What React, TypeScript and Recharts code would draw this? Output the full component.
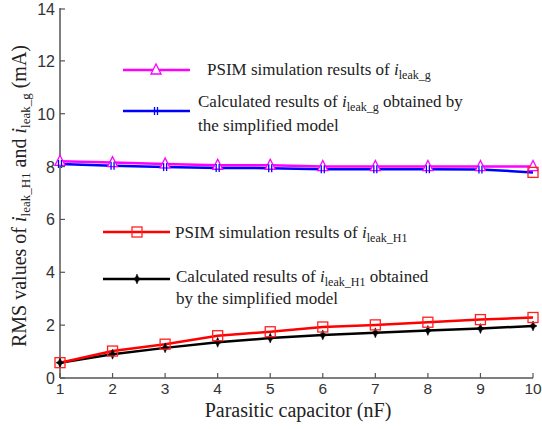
import React from 'react';
import { LineChart, Line, XAxis, YAxis } from 'recharts';

const CAPACITOR = [1, 2, 3, 4, 5, 6, 7, 8, 9, 10];
const PSIM_G = [8.2, 8.15, 8.1, 8.05, 8.05, 8.0, 8.0, 8.0, 8.0, 8.0];
const CALC_G = [8.1, 8.03, 7.98, 7.95, 7.94, 7.9, 7.9, 7.9, 7.89, 7.78];
const PSIM_H1 = [0.58, 1.02, 1.28, 1.6, 1.75, 1.93, 2.01, 2.11, 2.21, 2.29];
const CALC_H1 = [0.58, 0.9, 1.14, 1.35, 1.51, 1.63, 1.71, 1.8, 1.87, 1.97];
const Y_TICKS = [0, 2, 4, 6, 8, 10, 12, 14];

const data = CAPACITOR.map((c, i) => ({
    c,
    psimG: PSIM_G[i],
    calcG: CALC_G[i],
    psimH1: PSIM_H1[i],
    calcH1: CALC_H1[i],
}));

const AXIS = '#555';
const SANS = '"Liberation Sans", Arial, sans-serif';
const SERIF = '"Liberation Serif", "Times New Roman", serif';

const Triangle = ({ cx, cy, color }: any) => (
    <polygon points={`${cx},${cy - 6} ${cx - 5},${cy + 4} ${cx + 5},${cy + 4}`} fill="#fff" stroke={color} strokeWidth={1.3} />
);
const Square = ({ cx, cy, color }: any) => (
    <rect x={cx - 5} y={cy - 5} width={10} height={10} fill="none" stroke={color} strokeWidth={1.3} />
);
const Bars = ({ cx, cy, color }: any) => (
    <g stroke={color} strokeWidth={1.3}>
        <line x1={cx - 1.5} y1={cy - 4} x2={cx - 1.5} y2={cy + 4} />
        <line x1={cx + 1.5} y1={cy - 4} x2={cx + 1.5} y2={cy + 4} />
    </g>
);
const Star = ({ cx, cy, color }: any) => (
    <polygon points={`${cx},${cy - 5} ${cx + 1.5},${cy - 1.5} ${cx + 4},${cy} ${cx + 1.5},${cy + 1.5} ${cx},${cy + 5} ${cx - 1.5},${cy + 1.5} ${cx - 4},${cy} ${cx - 1.5},${cy - 1.5}`} fill={color} stroke={color} strokeWidth={0.5} />
);

const Sub = ({ s }: { s: string }) => (
    <>
        <tspan fontStyle="italic">i</tspan>
        <tspan fontSize={12} dy={4}>{s}</tspan>
        <tspan dy={-4}> </tspan>
    </>
);

const xTick = (props: any) => {
    const { x, y, payload } = props;
    return (
        <g>
            <line x1={x} y1={y} x2={x} y2={y - 5} stroke={AXIS} strokeWidth={1.2} />
            <text x={x} y={y + 16} textAnchor="middle" fontFamily={SANS} fontSize={15.5} fill="#333">{payload.value}</text>
        </g>
    );
};
const xTopTick = (props: any) => {
    const { x, y } = props;
    return <line x1={x} y1={y} x2={x} y2={y + 5} stroke={AXIS} strokeWidth={1.2} />;
};
const yTick = (props: any) => {
    const { x, y, payload } = props;
    return (
        <g>
            <line x1={x} y1={y} x2={x + 5} y2={y} stroke={AXIS} strokeWidth={1.2} />
            <text x={x - 5} y={y + 6} textAnchor="end" fontFamily={SANS} fontSize={16} fill="#333">{payload.value}</text>
        </g>
    );
};
const yRightTick = (props: any) => {
    const { x, y } = props;
    return <line x1={x} y1={y} x2={x - 5} y2={y} stroke={AXIS} strokeWidth={1.2} />;
};

export default function App() {
    return (
        <div style={{ position: 'absolute', left: 0, top: 0, width: 542, height: 429, background: '#fff' }}>
            <LineChart width={542} height={429} data={data} margin={{ top: 8, right: 9, left: 0, bottom: 0 }}>
                <XAxis dataKey="c" type="number" domain={[1, 10]} ticks={CAPACITOR} height={51}
                    axisLine={{ stroke: AXIS, strokeWidth: 1.5 }} tickLine={false} tickSize={0} tickMargin={0} tick={xTick} />
                <XAxis xAxisId="top" orientation="top" dataKey="c" type="number" domain={[1, 10]} ticks={CAPACITOR} height={0}
                    axisLine={{ stroke: AXIS, strokeWidth: 1.5 }} tickLine={false} tickSize={0} tickMargin={0} tick={xTopTick} />
                <YAxis type="number" domain={[0, 14]} ticks={Y_TICKS} width={60}
                    axisLine={{ stroke: AXIS, strokeWidth: 1.5 }} tickLine={false} tickSize={0} tickMargin={0} tick={yTick} />
                <YAxis yAxisId="right" orientation="right" type="number" domain={[0, 14]} ticks={Y_TICKS} width={0}
                    axisLine={{ stroke: AXIS, strokeWidth: 1.5 }} tickLine={false} tickSize={0} tickMargin={0} tick={yRightTick} />
                <Line dataKey="psimG" stroke="#ff00ff" strokeWidth={2.5} isAnimationActive={false}
                    dot={(p: any) => <Triangle key={p.index} cx={p.cx} cy={p.cy} color="#ff00ff" />} />
                <Line dataKey="calcG" stroke="#0000ff" strokeWidth={2.5} isAnimationActive={false}
                    dot={(p: any) => p.index === CAPACITOR.length - 1
                        ? <Square key={p.index} cx={p.cx} cy={p.cy} color="#ff2020" />
                        : <Bars key={p.index} cx={p.cx} cy={p.cy} color="#0000ff" />} />
                <Line dataKey="calcH1" stroke="#000" strokeWidth={2.5} isAnimationActive={false}
                    dot={(p: any) => <Star key={p.index} cx={p.cx} cy={p.cy} color="#000" />} />
                <Line dataKey="psimH1" stroke="#ff0000" strokeWidth={2.5} isAnimationActive={false}
                    dot={(p: any) => <Square key={p.index} cx={p.cx} cy={p.cy} color="#ff2020" />} />
            </LineChart>
            <svg width={542} height={429} style={{ position: 'absolute', left: 0, top: 0, pointerEvents: 'none' }}>
                <g fontFamily={SERIF} fontSize={17} fill="#222">
                    <line x1={123} y1={70} x2={190} y2={70} stroke="#ff00ff" strokeWidth={2.5} />
                    <Triangle cx={156} cy={70} color="#ff00ff" />
                    <text x={207} y={75}>PSIM simulation results of <Sub s="leak_g" /></text>

                    <line x1={123} y1={111} x2={190} y2={111} stroke="#0000ff" strokeWidth={2.5} />
                    <Bars cx={156} cy={111} color="#0000ff" />
                    <text x={198} y={107}>Calculated results of <Sub s="leak_g" />obtained by</text>
                    <text x={198} y={131}>the simplified model</text>

                    <line x1={103} y1={232} x2={170} y2={232} stroke="#ff0000" strokeWidth={2.5} />
                    <Square cx={137} cy={232} color="#ff2020" />
                    <text x={175} y={238}>PSIM simulation results of <Sub s="leak_H1" /></text>

                    <line x1={103} y1={279} x2={170} y2={279} stroke="#000" strokeWidth={2.5} />
                    <Star cx={137} cy={279} color="#000" />
                    <text x={176} y={282}>Calculated results of <Sub s="leak_H1" />obtained</text>
                    <text x={176} y={304}>by the simplified model</text>
                </g>
                <g fontFamily={SERIF} fontSize={20} fill="#222">
                    <text x={298} y={417} textAnchor="middle">Parasitic capacitor (nF)</text>
                    <text transform="translate(26,196) rotate(-90)" textAnchor="middle">
                        RMS values of <tspan fontStyle="italic">i</tspan><tspan fontSize={13} dy={4}>leak_H1</tspan><tspan dy={-4}> and </tspan>
                        <tspan fontStyle="italic">i</tspan><tspan fontSize={13} dy={4}>leak_g</tspan><tspan dy={-4}> (mA)</tspan>
                    </text>
                </g>
            </svg>
        </div>
    );
}
